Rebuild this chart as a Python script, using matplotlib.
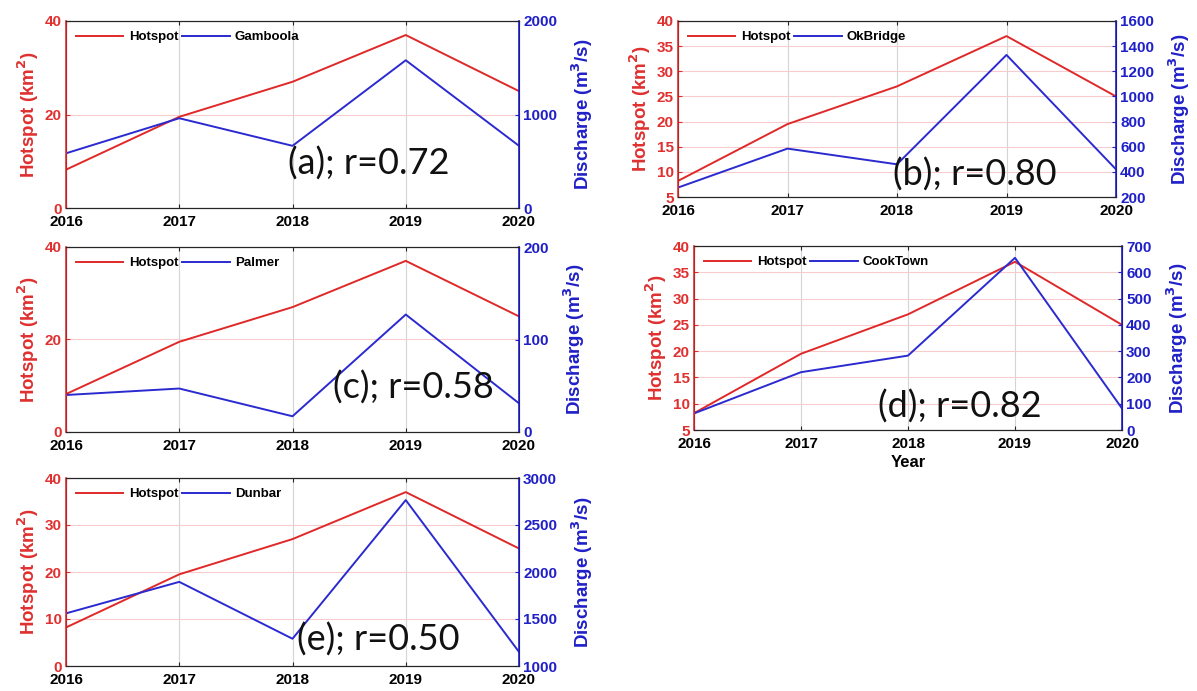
import matplotlib
matplotlib.use("Agg")
import matplotlib.pyplot as plt

years = [2016, 2017, 2018, 2019, 2020]
hotspot = [8.2, 19.5, 27.0, 37.0, 25.0]

gamboola = [585, 960, 665, 1580, 665]
okbridge = [275, 585, 460, 1330, 420]
palmer = [40, 47, 17, 127, 31]
cooktown = [63, 220, 283, 655, 82]
dunbar = [1560, 1895, 1290, 2765, 1150]

stations = ["Gamboola", "OkBridge", "Palmer", "CookTown", "Dunbar"]
discharge = [gamboola, okbridge, palmer, cooktown, dunbar]
tags = ["(a); r=0.72", "(b); r=0.80", "(c); r=0.58", "(d); r=0.82", "(e); r=0.50"]

left_lims = [(0, 40), (5, 40), (0, 40), (5, 40), (0, 40)]
left_ticks = [[0, 20, 40], list(range(5, 41, 5)), [0, 20, 40], list(range(5, 41, 5)), [0, 10, 20, 30, 40]]
right_lims = [(0, 2000), (200, 1600), (0, 200), (0, 700), (1000, 3000)]
right_ticks = [[0, 1000, 2000], list(range(200, 1601, 200)), [0, 100, 200],
               list(range(0, 701, 100)), list(range(1000, 3001, 500))]

# axes boxes in pixels: left, top, right, bottom
W, H = 1197, 691
boxes = [(66, 21, 519, 208), (678, 21, 1116, 197), (66, 247, 519, 432),
         (694, 246, 1122, 430), (66, 478, 519, 666)]
tag_pos = [(0.49, 0.24), (0.49, 0.13), (0.59, 0.24), (0.43, 0.13), (0.51, 0.14)]

RED = "#e02828"
BLUE = "#2a2ad0"
RED_AX = "#e03030"
BLUE_AX = "#2020c8"

plt.rcParams["font.family"] = ["Liberation Sans", "DejaVu Sans"]
plt.rcParams["font.weight"] = "bold"

fig = plt.figure(figsize=(W / 100, H / 100), dpi=100)

for i in range(5):
    l, t, r, b = boxes[i]
    ax = fig.add_axes([l / W, 1 - b / H, (r - l) / W, (b - t) / H])
    ax2 = ax.twinx()

    h1, = ax.plot(years, hotspot, color=RED, lw=1.4, label="Hotspot")
    h2, = ax2.plot(years, discharge[i], color=BLUE, lw=1.4, label=stations[i])

    ax.set_xlim(2016, 2020)
    ax.set_xticks(years)
    ax.set_ylim(*left_lims[i])
    ax.set_yticks(left_ticks[i])
    ax2.set_ylim(*right_lims[i])
    ax2.set_yticks(right_ticks[i])

    ax.grid(axis="x", color="#d4d4d4", lw=0.8)
    ax.grid(axis="y", color="#f6cccc", lw=0.8)
    ax.set_axisbelow(True)

    ax.tick_params(axis="x", direction="in", labelsize=11, colors="#262626", length=3, top=True, pad=5)
    ax.tick_params(axis="y", direction="in", labelsize=11, colors=RED_AX, length=3, pad=3)
    ax2.tick_params(axis="y", direction="in", labelsize=11, colors=BLUE_AX, length=3, pad=3)
    for lab in ax.get_xticklabels():
        lab.set_color("black")

    for sp in ["top", "bottom"]:
        ax2.spines[sp].set_color("#262626")
    ax2.spines["left"].set_color(RED_AX)
    ax2.spines["right"].set_color(BLUE_AX)
    ax2.spines["left"].set_linewidth(1.2)
    ax2.spines["right"].set_linewidth(1.2)

    ax.set_ylabel("Hotspot (km$^\\mathbf{2}$)", color=RED_AX, fontsize=13.5, fontweight="bold", labelpad=3)
    ax2.set_ylabel("Discharge (m$^\\mathbf{3}$/s)", color=BLUE_AX, fontsize=13.5, fontweight="bold", labelpad=9)

    ax2.legend(handles=[h1, h2], loc="upper left", ncol=2, frameon=False,
               prop={"size": 9.5, "weight": "bold"}, handlelength=3.6,
               columnspacing=0.3, handletextpad=0.4, borderaxespad=0.35)

    ax2.text(tag_pos[i][0], tag_pos[i][1], tags[i], transform=ax.transAxes,
             fontsize=26, fontweight="normal", family=["Lato", "DejaVu Sans"],
             color="#111111", va="center", ha="left")

    if i == 3:
        ax.set_xlabel("Year", fontsize=12, fontweight="bold", labelpad=3)

fig.savefig("out.png", dpi=100, facecolor="white")
